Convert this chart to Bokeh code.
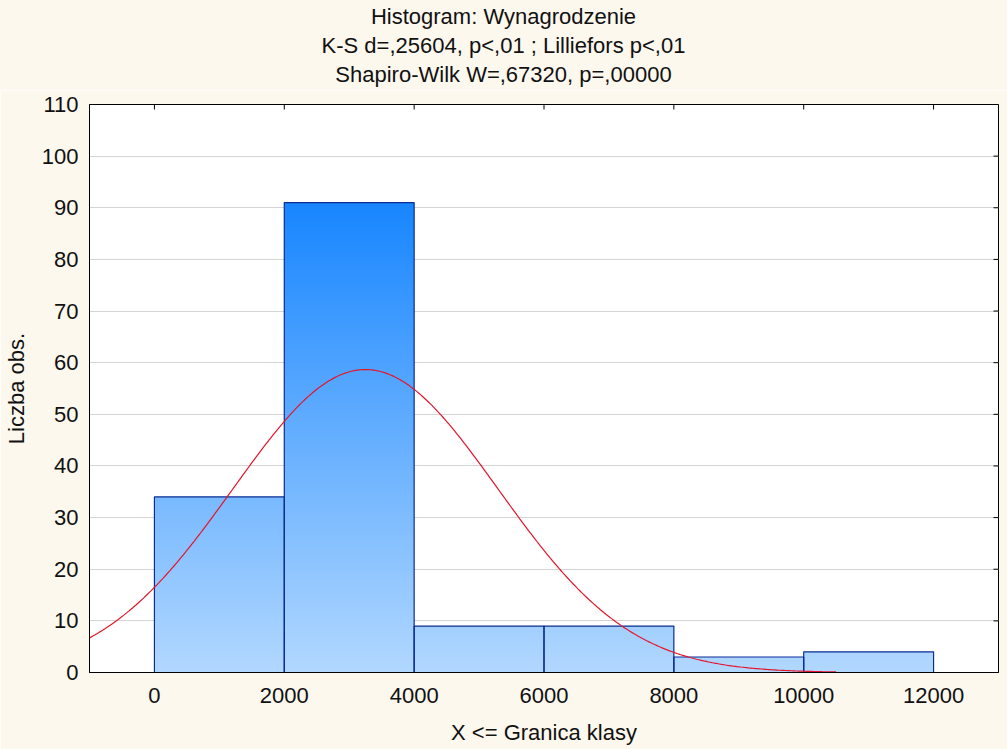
import numpy as np
from bokeh.plotting import figure
from bokeh.models import Range1d, FixedTicker, Div
from bokeh.layouts import column
from bokeh.embed import file_html
from bokeh.resources import INLINE

# --- data ---
bin_left = [0, 2000, 4000, 6000, 8000, 10000]
bin_right = [2000, 4000, 6000, 8000, 10000, 12000]
counts = [34, 91, 9, 9, 3, 4]
x_ticks = [0, 2000, 4000, 6000, 8000, 10000, 12000]
y_ticks = [0, 10, 20, 30, 40, 50, 60, 70, 80, 90, 100, 110]
x_min, x_max = -1000, 13000
y_min, y_max = 0, 110
fit_mean = 3250.0
fit_sd = 2040.0
fit_n = sum(counts)
bin_width = 2000.0
curve_start, curve_end = -1000.0, 10500.0
titles = ["Histogram: Wynagrodzenie",
          "K-S d=,25604, p&lt;,01 ; Lilliefors p&lt;,01",
          "Shapiro-Wilk W=,67320, p=,00000"]

FONT = "Liberation Sans"
FS = "22px"
BG = "#FDF8EE"
TXT = "#111111"

header = Div(text="<br>".join(titles), width=1007, height=90, margin=0,
             styles={"background-color": BG, "text-align": "center",
                     "font-family": FONT, "font-size": FS, "line-height": "29px",
                     "color": TXT, "padding-top": "2px", "box-sizing": "border-box",
                     "overflow": "visible"})

p = figure(width=1007, height=659, output_backend="svg", toolbar_location=None,
           x_range=Range1d(x_min, x_max), y_range=Range1d(y_min, y_max),
           min_border_left=88, min_border_right=9, min_border_bottom=77,
           min_border_top=14, border_fill_color=BG, background_fill_color="white",
           outline_line_color="black", outline_line_width=1, margin=0)

xax = p.below[0]
yax = p.left[0]

# gradient bars: image colored by absolute height
top_c = np.array([24, 134, 255])
bot_c = np.array([178, 216, 255])
vmax = max(counts)
imgs, xs_i, ws_i, hs_i = [], [], [], []
for l, r, c in zip(bin_left, bin_right, counts):
    rows = 400
    hvals = (np.arange(rows) + 0.5) / rows * c
    f = np.clip(hvals / vmax, 0, 1)[:, None]
    cols = (bot_c[None, :] + (top_c - bot_c)[None, :] * f).astype(np.uint32)
    rgba = (255 << 24) | (cols[:, 2] << 16) | (cols[:, 1] << 8) | cols[:, 0]
    img = np.repeat(rgba[:, None], 2, axis=1).astype(np.uint32)
    imgs.append(img); xs_i.append(l); ws_i.append(r - l); hs_i.append(c)
p.image_rgba(image=imgs, x=xs_i, y=[0] * len(imgs), dw=ws_i, dh=hs_i)
p.quad(left=bin_left, right=bin_right, bottom=0, top=counts, fill_alpha=0,
       line_color="#0A2C94", line_width=1.2)

# fitted normal curve
xs = np.linspace(curve_start, curve_end, 400)
ys = fit_n * bin_width / (fit_sd * np.sqrt(2 * np.pi)) * np.exp(-0.5 * ((xs - fit_mean) / fit_sd) ** 2)
p.line(xs, ys, line_color="#E4152A", line_width=1.2)

# grid
p.xgrid.visible = False
p.ygrid.ticker = FixedTicker(ticks=y_ticks)
p.ygrid.grid_line_color = "#D4D4D4"
p.ygrid.grid_line_width = 1

# inward ticks on top and right edges
p.scatter(x=x_ticks, y=[y_max] * len(x_ticks), marker="dash", angle=np.pi / 2,
          size=10, line_color="black", line_width=1)
p.scatter(x=[x_max] * len(y_ticks), y=y_ticks, marker="dash",
          size=10, line_color="black", line_width=1)

# main axes
for ax in (xax, yax):
    ax.major_label_text_font = FONT
    ax.major_label_text_font_size = FS
    ax.major_label_text_color = TXT
    ax.axis_label_text_font = FONT
    ax.axis_label_text_font_size = FS
    ax.axis_label_text_font_style = "normal"
    ax.axis_label_text_color = TXT
    ax.major_tick_out = 0
    ax.major_tick_in = 0
    ax.minor_tick_out = 0
    ax.minor_tick_in = 0
    ax.axis_line_color = "black"
xax.ticker = FixedTicker(ticks=x_ticks)
yax.ticker = FixedTicker(ticks=y_ticks)
xax.axis_label = "X <= Granica klasy"
yax.axis_label = "Liczba obs."
xax.major_label_standoff = 15
xax.axis_label_standoff = 14
yax.major_label_standoff = 11
yax.axis_label_standoff = 10

layout = column(header, p, spacing=0, margin=0)
open("out.html", "w").write(file_html(layout, INLINE))
